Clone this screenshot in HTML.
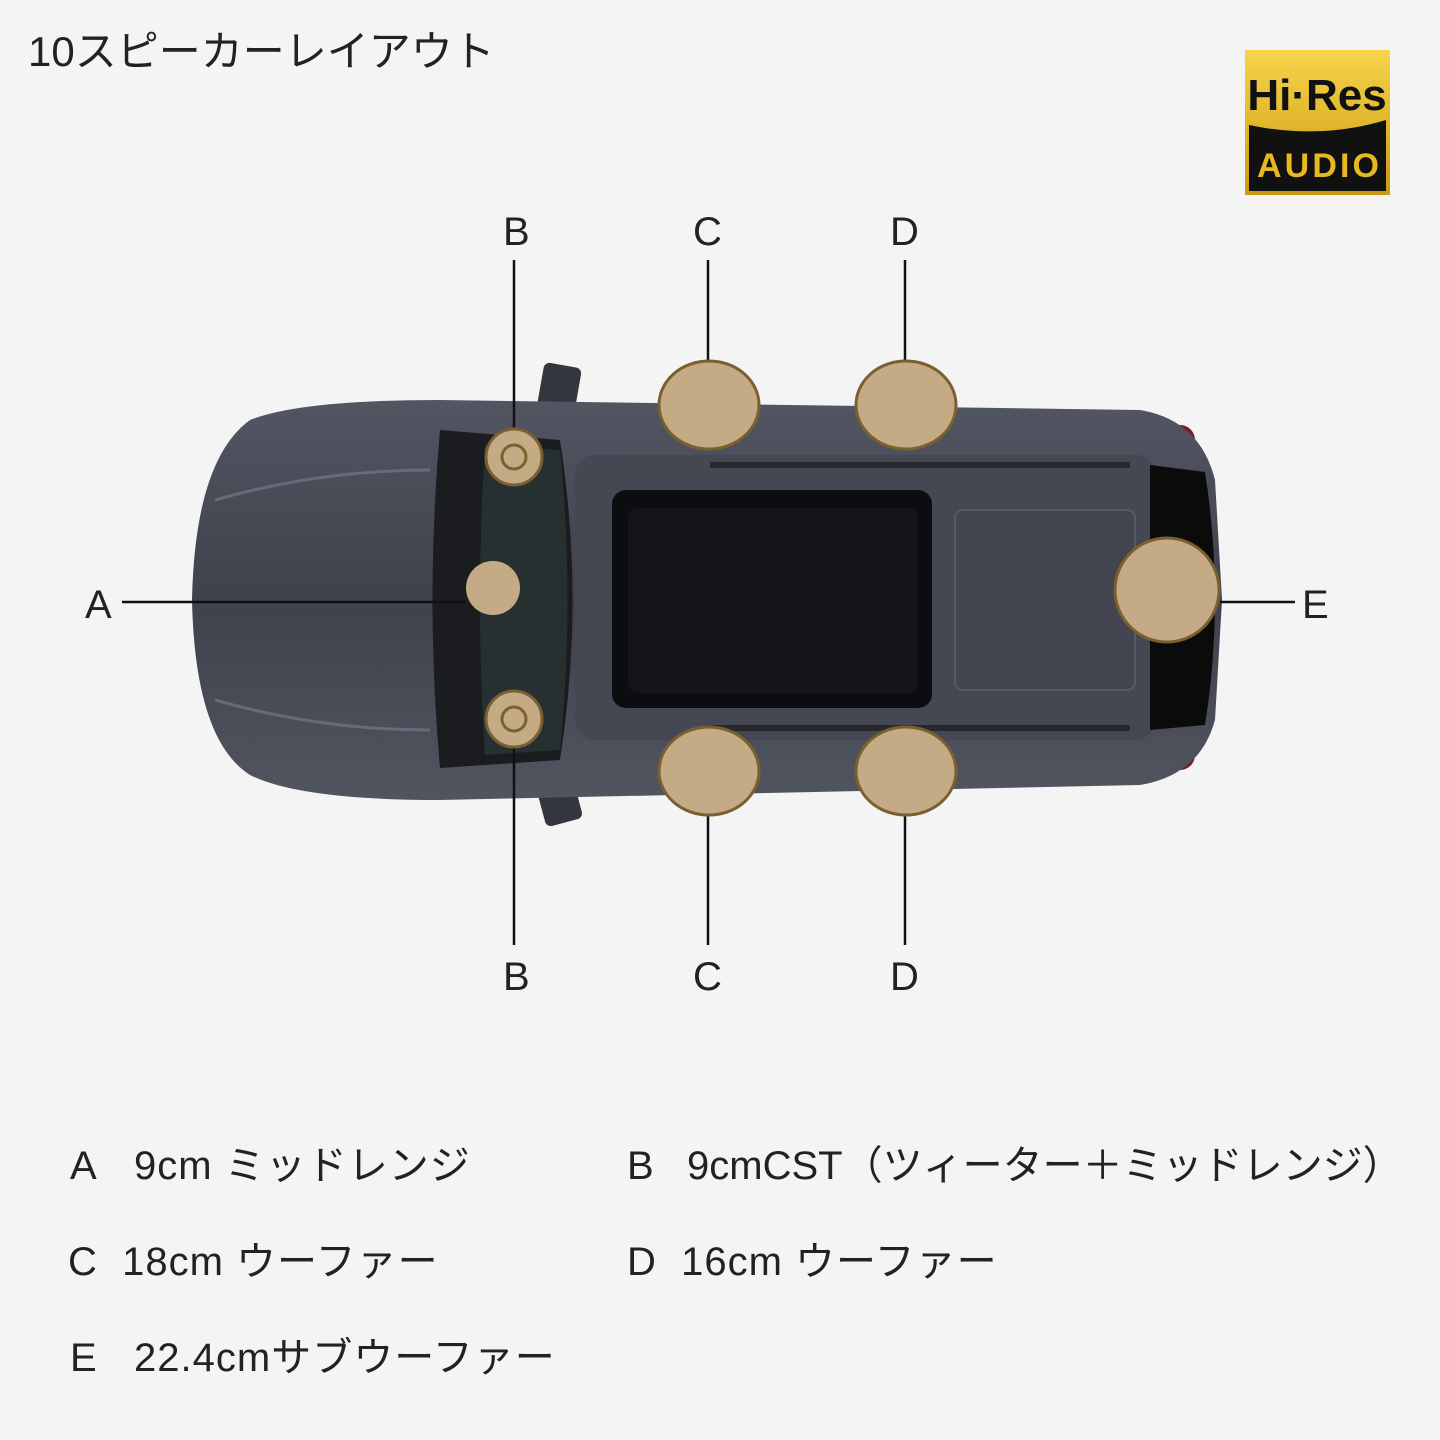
<!DOCTYPE html>
<html><head><meta charset="utf-8"><style>
html,body{margin:0;padding:0;background:#f4f4f4;}
body{width:1440px;height:1440px;overflow:hidden;position:relative;font-family:"Liberation Sans","Noto Sans CJK JP",sans-serif;color:#222;}
.t{position:absolute;font-size:40px;line-height:1;white-space:nowrap;}
.l{letter-spacing:1px;}
</style></head><body>
<svg width="1440" height="1440" style="position:absolute;left:0;top:0">
<defs>
<linearGradient id="gold" x1="0" y1="0" x2="0" y2="1"><stop offset="0" stop-color="#f7d44a"/><stop offset="1" stop-color="#c99a10"/></linearGradient>
<linearGradient id="body" x1="0" y1="0" x2="0" y2="1"><stop offset="0" stop-color="#525662"/><stop offset="0.5" stop-color="#3f424c"/><stop offset="1" stop-color="#51555f"/></linearGradient>
</defs>
<rect x="540" y="365" width="38" height="50" rx="6" fill="#34363d" transform="rotate(10 560 390)"/>
<rect x="540" y="775" width="38" height="48" rx="6" fill="#34363d" transform="rotate(-15 560 800)"/>
<rect x="1150" y="425" width="45" height="50" rx="15" fill="#7a1c22"/>
<rect x="1150" y="720" width="45" height="50" rx="15" fill="#7a1c22"/>
<path d="M250 420 Q300 400 440 400 L1140 410 Q1200 420 1215 480 L1222 600 L1215 720 Q1200 775 1140 785 L440 800 Q300 800 250 775 Q195 740 192 600 Q195 460 250 420Z" fill="url(#body)"/>
<path d="M215 500 Q320 470 430 470" stroke="#676b78" stroke-width="3" fill="none"/>
<path d="M215 700 Q320 730 430 730" stroke="#676b78" stroke-width="3" fill="none"/>
<path d="M440 430 L560 440 Q585 600 560 760 L440 768 Q425 600 440 430Z" fill="#1a1c20"/>
<path d="M485 445 L560 450 Q575 600 560 750 L485 755 Q475 600 485 445Z" fill="#273030"/>
<rect x="575" y="455" width="580" height="285" rx="20" fill="#454852"/>
<rect x="612" y="490" width="320" height="218" rx="14" fill="#0c0d10"/>
<rect x="628" y="508" width="290" height="185" rx="10" fill="#141518"/>
<rect x="955" y="510" width="180" height="180" rx="8" fill="#42454f" stroke="#575b66" stroke-width="2"/>
<path d="M1150 465 L1205 472 Q1225 600 1205 725 L1150 730Z" fill="#0c0b0c"/>
<line x1="710" y1="465" x2="1130" y2="465" stroke="#26282d" stroke-width="6"/>
<line x1="710" y1="728" x2="1130" y2="728" stroke="#26282d" stroke-width="6"/>
<g stroke="#111" stroke-width="2.5">
<line x1="514" y1="260" x2="514" y2="432"/><line x1="514" y1="745" x2="514" y2="945"/>
<line x1="708" y1="260" x2="708" y2="362"/><line x1="708" y1="815" x2="708" y2="945"/>
<line x1="905" y1="260" x2="905" y2="362"/><line x1="905" y1="815" x2="905" y2="945"/>
<line x1="122" y1="602" x2="466" y2="602"/><line x1="1220" y1="602" x2="1295" y2="602"/>
</g>
<g fill="#c4ab85" stroke="#7a6030" stroke-width="3">
<ellipse cx="709" cy="405" rx="50" ry="44"/><ellipse cx="906" cy="405" rx="50" ry="44"/>
<ellipse cx="709" cy="771" rx="50" ry="44"/><ellipse cx="906" cy="771" rx="50" ry="44"/>
<circle cx="1167" cy="590" r="52"/>
<circle cx="514" cy="457" r="28"/><circle cx="514" cy="719" r="28"/>
</g>
<circle cx="493" cy="588" r="27" fill="#c4ab85"/>
<circle cx="514" cy="457" r="12" fill="none" stroke="#7a6030" stroke-width="3"/>
<circle cx="514" cy="719" r="12" fill="none" stroke="#7a6030" stroke-width="3"/>
<rect x="1245" y="50" width="145" height="145" fill="url(#gold)"/>
<path d="M1249 125 Q1320 140 1386 120 L1386 191 L1249 191Z" fill="#111"/>
<text x="1317" y="110" font-family="Liberation Sans,sans-serif" font-weight="bold" font-size="44" text-anchor="middle" fill="#111">Hi·Res</text>
<text x="1318" y="177" font-family="Liberation Sans,sans-serif" font-weight="bold" font-size="34" text-anchor="middle" fill="#e8b820" textLength="122">AUDIO</text>
</svg>
<div class="t" style="left:28px;top:31px;font-size:42px">10スピーカーレイアウト</div>
<div class="t" style="left:503px;top:212px">B</div>
<div class="t" style="left:693px;top:212px">C</div>
<div class="t" style="left:890px;top:212px">D</div>
<div class="t" style="left:503px;top:957px">B</div>
<div class="t" style="left:693px;top:957px">C</div>
<div class="t" style="left:890px;top:957px">D</div>
<div class="t" style="left:85px;top:585px">A</div>
<div class="t" style="left:1302px;top:585px">E</div>
<div class="t l" style="left:70px;top:1146px">A&nbsp;&nbsp; 9cm ミッドレンジ</div>
<div class="t" style="left:627px;top:1146px">B&nbsp;&nbsp; 9cmCST（ツィーター＋ミッドレンジ）</div>
<div class="t l" style="left:68px;top:1242px">C&nbsp;&nbsp;18cm ウーファー</div>
<div class="t l" style="left:627px;top:1242px">D&nbsp;&nbsp;16cm ウーファー</div>
<div class="t l" style="left:70px;top:1338px">E&nbsp;&nbsp; 22.4cmサブウーファー</div>
</body></html>
